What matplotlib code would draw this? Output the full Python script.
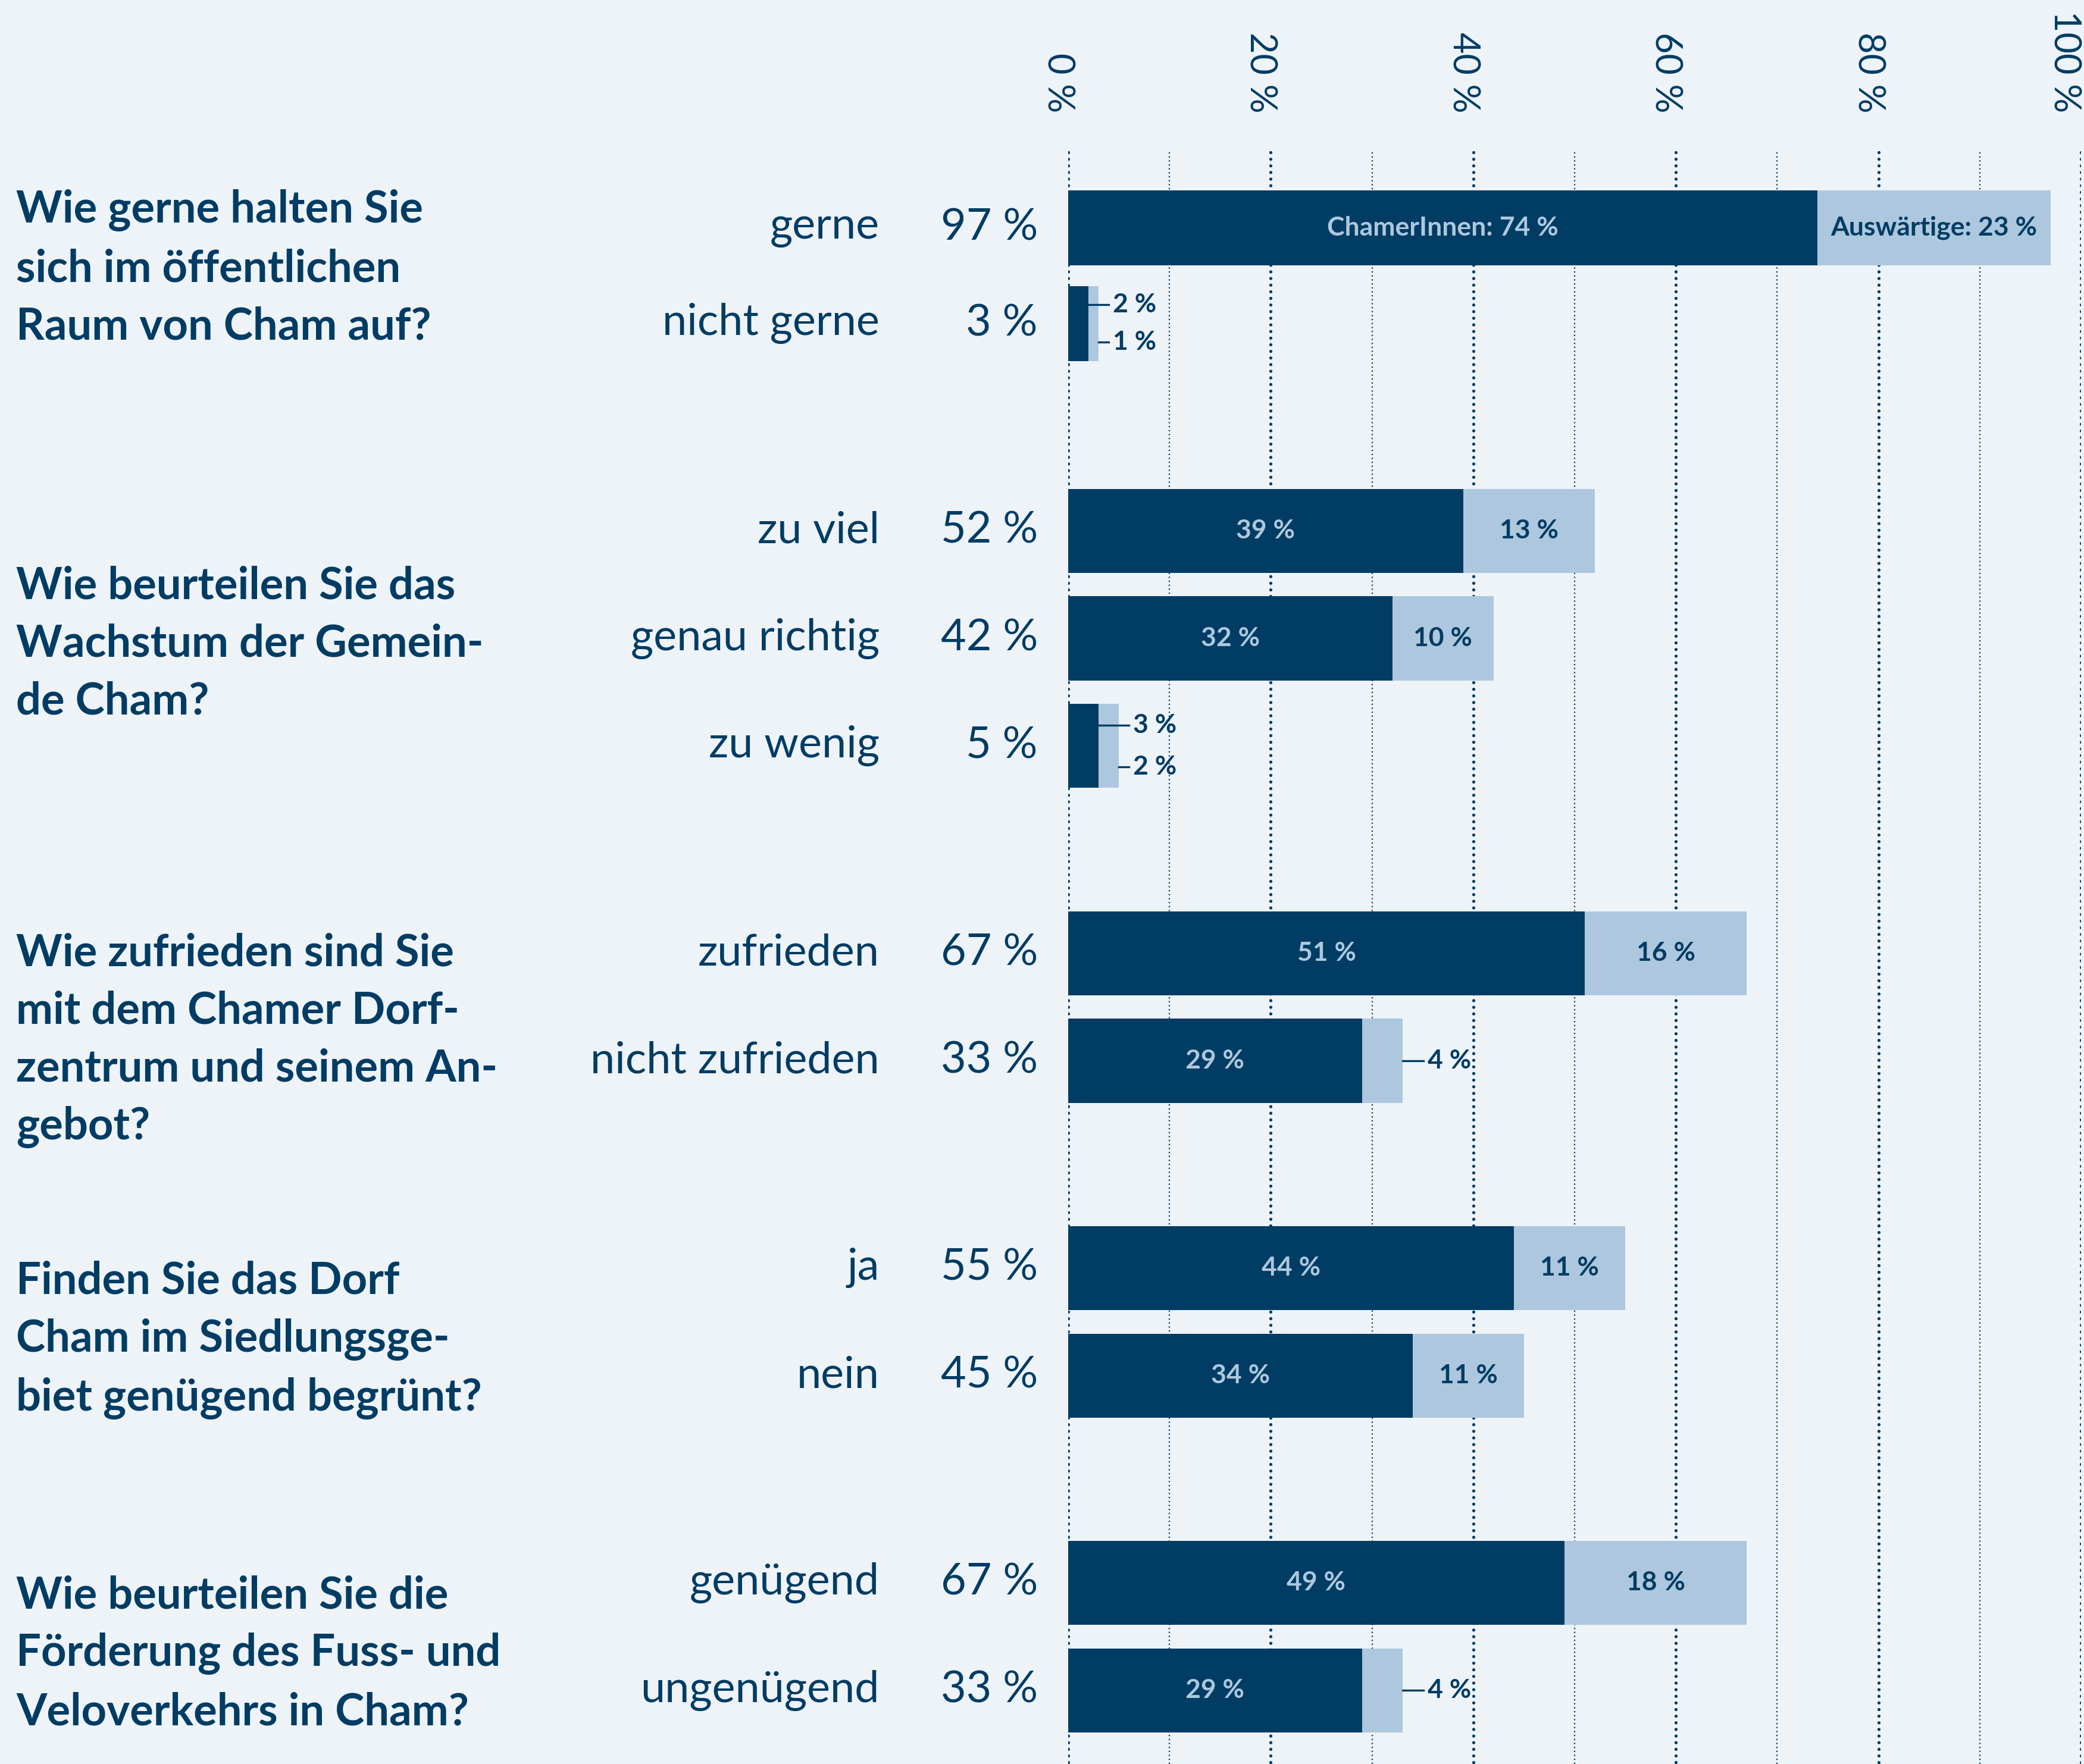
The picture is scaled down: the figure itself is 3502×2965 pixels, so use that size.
import numpy as np
import matplotlib.pyplot as plt
from matplotlib import transforms

plt.rcParams['font.family'] = ['Lato', 'DejaVu Sans']

# Colours
DARK = '#003c63'
LIGHT = '#adc8de'
BG = '#eef3f8'

# Survey data (percent)
questions = [
    'Wie gerne halten Sie\nsich im öffentlichen\nRaum von Cham auf?',
    'Wie beurteilen Sie das\nWachstum der Gemein-\nde Cham?',
    'Wie zufrieden sind Sie\nmit dem Chamer Dorf-\nzentrum und seinem An-\ngebot?',
    'Finden Sie das Dorf\nCham im Siedlungsge-\nbiet genügend begrünt?',
    'Wie beurteilen Sie die\nFörderung des Fuss- und\nVeloverkehrs in Cham?',
]
answers = [
    ['gerne', 'nicht gerne'],
    ['zu viel', 'genau richtig', 'zu wenig'],
    ['zufrieden', 'nicht zufrieden'],
    ['ja', 'nein'],
    ['genügend', 'ungenügend'],
]
totals = [[97, 3], [52, 42, 5], [67, 33], [55, 45], [67, 33]]
residents = [[74, 2], [39, 32, 3], [51, 29], [44, 34], [49, 29]]
visitors = [[23, 1], [13, 10, 2], [16, 4], [11, 11], [18, 4]]
series_names = ['ChamerInnen', 'Auswärtige']
ticks = [0, 20, 40, 60, 80, 100]
tick_labels = ['0 %', '20 %', '40 %', '60 %', '80 %', '100 %']

# Layout (row units)
NEXT_GROUP = 1.926
row_step = [0.89, 1, 1, 1, 1]
bar_h = [0.70, 0.78, 0.78, 0.78, 0.78]
q_nudge = [-0.07, 0.05, 0.31, 0.17, 0.16]

rows = []
y = 0.0
for g, ans in enumerate(answers):
    r = [y + i * row_step[g] for i in range(len(ans))]
    rows.append(r)
    y = r[-1] + NEXT_GROUP

fig = plt.figure(figsize=(17.51, 14.825), dpi=200, facecolor=BG)
ax = fig.add_axes([1795 / 3502, 0, (3497 - 1795) / 3502, 1])
ax.set_xlim(0, 100)
ax.set_ylim(14.278, -2.117)
ax.axis('off')

# dotted gridlines, heavier every 20 %
for v in range(0, 101, 10):
    if v % 20 == 0:
        ax.plot([v, v], [-0.70, 14.5], color=DARK, lw=1.9,
                linestyle=(0, (0.01, 2.1)), dash_capstyle='round', zorder=1)
    else:
        ax.plot([v, v], [-0.70, 14.5], color=DARK, lw=0.8,
                linestyle=(0, (1, 2)), zorder=1)

for v, lab in zip(ticks, tick_labels):
    if v == 100:
        ax.text(v, -1.068, lab, rotation=-90, ha='right', va='bottom',
                fontsize=22, color=DARK)
    else:
        ax.text(v - 1.0, -1.068, lab, rotation=-90, ha='center', va='bottom',
                fontsize=22, color=DARK)

trans = transforms.blended_transform_factory(fig.transFigure, ax.transData)

for g, q in enumerate(questions):
    ys = rows[g]
    h = bar_h[g]
    center = (ys[0] + ys[-1]) / 2
    ax.text(0.0077, center + q_nudge[g], q, transform=trans, ha='left', va='center',
            fontsize=26.7, fontweight='bold', color=DARK, linespacing=1.5)

    for i, yy in enumerate(ys):
        res = residents[g][i]
        vis = visitors[g][i]
        tot = totals[g][i]
        ax.text(0.422, yy, answers[g][i], transform=trans, ha='right', va='center',
                fontsize=26.5, color=DARK)
        ax.text(0.498, yy, f'{tot} %', transform=trans, ha='right', va='center',
                fontsize=26.5, color=DARK)

        ax.barh(yy, res, height=h, color=DARK, zorder=3)
        ax.barh(yy, vis, left=res, height=h, color=LIGHT, zorder=3)

        first = (g == 0 and i == 0)
        res_txt = f'{series_names[0]}: {res} %' if first else f'{res} %'
        vis_txt = f'{series_names[1]}: {vis} %' if first else f'{vis} %'
        end = res + vis

        if res >= 10:
            ax.text(res / 2, yy, res_txt, ha='center', va='center', fontsize=16,
                    fontweight='bold', color=LIGHT, zorder=4)
        if vis >= 10:
            ax.text(res + vis / 2, yy, vis_txt, ha='center', va='center', fontsize=16,
                    fontweight='bold', color=DARK, zorder=4)

        # small segments get an outside label with a leader line
        if res < 10 and vis < 10:
            dy = h * 0.25
            ax.plot([res, end + 1.0], [yy - dy, yy - dy], color=DARK, lw=1.2, zorder=4)
            ax.plot([end, end + 1.0], [yy + dy, yy + dy], color=DARK, lw=1.2, zorder=4)
            ax.text(end + 1.4, yy - dy, res_txt, ha='left', va='center', fontsize=16,
                    fontweight='bold', color=DARK, zorder=4)
            ax.text(end + 1.4, yy + dy, vis_txt, ha='left', va='center', fontsize=16,
                    fontweight='bold', color=DARK, zorder=4)
        elif vis < 10:
            ax.plot([end, end + 2.1], [yy, yy], color=DARK, lw=1.2, zorder=4)
            ax.text(end + 2.5, yy, vis_txt, ha='left', va='center', fontsize=16,
                    fontweight='bold', color=DARK, zorder=4)

fig.savefig('out.png', dpi=200, facecolor=BG)
